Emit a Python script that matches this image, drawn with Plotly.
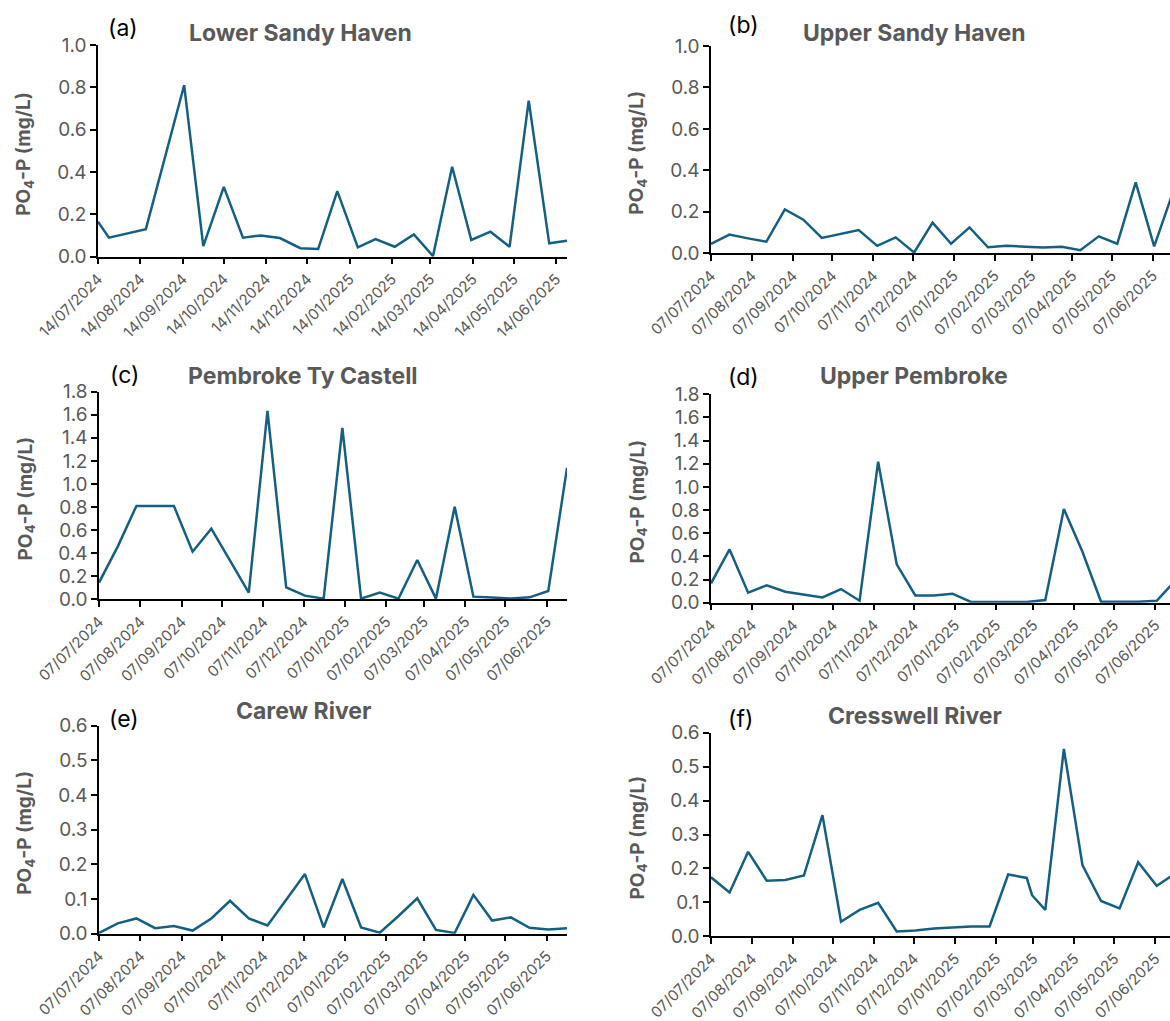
import plotly.graph_objects as go

# ---------------- data ----------------
# Lower Sandy Haven sampling dates and PO4-P (mg/L)
DATES_LSH = [
    "2024-07-14", "2024-07-22", "2024-08-18", "2024-09-15", "2024-09-29",
    "2024-10-14", "2024-10-28", "2024-11-10", "2024-11-24", "2024-12-09",
    "2024-12-22", "2025-01-05", "2025-01-20", "2025-02-02", "2025-02-16",
    "2025-03-02", "2025-03-16", "2025-03-30", "2025-04-13", "2025-04-27",
    "2025-05-11", "2025-05-25", "2025-06-09", "2025-06-22",
]
PO4_LSH = [
    0.165, 0.09, 0.13, 0.81, 0.05, 0.33, 0.09, 0.10, 0.088, 0.04,
    0.036, 0.31, 0.044, 0.083, 0.047, 0.105, 0.003, 0.425, 0.079, 0.118,
    0.047, 0.737, 0.063, 0.075,
]

# Fortnightly sampling dates shared by the other sites
DATES_FN = [
    "2024-07-07", "2024-07-21", "2024-08-04", "2024-08-18", "2024-09-01",
    "2024-09-15", "2024-09-29", "2024-10-13", "2024-10-27", "2024-11-10",
    "2024-11-24", "2024-12-08", "2024-12-22", "2025-01-05", "2025-01-19",
    "2025-02-02", "2025-02-16", "2025-03-02", "2025-03-16", "2025-03-30",
    "2025-04-13", "2025-04-27", "2025-05-11", "2025-05-25", "2025-06-08",
    "2025-06-22",
]
PO4_USH = [
    0.045, 0.09, 0.072, 0.056, 0.212, 0.162, 0.074, 0.092, 0.112, 0.036,
    0.077, 0.004, 0.148, 0.046, 0.125, 0.029, 0.036, 0.032, 0.028, 0.032,
    0.015, 0.082, 0.046, 0.342, 0.033, 0.29,
]
PO4_PTC = [
    0.145, 0.457, 0.81, 0.81, 0.81, 0.413, 0.613, 0.335, 0.058, 1.633,
    0.104, 0.032, 0.006, 1.486, 0.006, 0.058, 0.006, 0.341, 0.006, 0.803,
    0.023, 0.015, 0.006, 0.017, 0.072, 1.14,
]
PO4_UP = [
    0.167, 0.46, 0.086, 0.15, 0.095, 0.072, 0.046, 0.118, 0.017, 1.218,
    0.331, 0.063, 0.063, 0.078, 0.006, 0.006, 0.006, 0.006, 0.023, 0.81,
    0.44, 0.008, 0.008, 0.008, 0.017, 0.19,
]
PO4_CAREW = [
    0.002, 0.03, 0.044, 0.016, 0.022, 0.009, 0.044, 0.095, 0.044, 0.024,
    0.098, 0.172, 0.018, 0.158, 0.018, 0.003, 0.051, 0.102, 0.011, 0.002,
    0.112, 0.038, 0.047, 0.017, 0.012, 0.016,
]
# Cresswell has one extra sample in early March 2025
DATES_CRESS = [
    "2024-07-07", "2024-07-21", "2024-08-04", "2024-08-18", "2024-09-01",
    "2024-09-15", "2024-09-29", "2024-10-13", "2024-10-27", "2024-11-10",
    "2024-11-24", "2024-12-08", "2024-12-22", "2025-01-05", "2025-01-19",
    "2025-02-02", "2025-02-16", "2025-03-02", "2025-03-06", "2025-03-16",
    "2025-03-30", "2025-04-13", "2025-04-27", "2025-05-11", "2025-05-25",
    "2025-06-08", "2025-06-22",
]
PO4_CRESS = [
    0.174, 0.129, 0.249, 0.164, 0.166, 0.179, 0.357, 0.043, 0.078, 0.099,
    0.014, 0.017, 0.023, 0.027, 0.029, 0.029, 0.182, 0.172, 0.121, 0.078,
    0.552, 0.21, 0.104, 0.082, 0.218, 0.149, 0.185,
]

SITE_NAMES = ["Lower Sandy Haven", "Upper Sandy Haven", "Pembroke Ty Castell",
              "Upper Pembroke", "Carew River", "Cresswell River"]
PANEL_TAGS = ["(a)", "(b)", "(c)", "(d)", "(e)", "(f)"]

TICKS_14 = ["2024-07-14", "2024-08-14", "2024-09-14", "2024-10-14", "2024-11-14",
            "2024-12-14", "2025-01-14", "2025-02-14", "2025-03-14", "2025-04-14",
            "2025-05-14", "2025-06-14"]
TICKS_07 = ["2024-07-07", "2024-08-07", "2024-09-07", "2024-10-07", "2024-11-07",
            "2024-12-07", "2025-01-07", "2025-02-07", "2025-03-07", "2025-04-07",
            "2025-05-07", "2025-06-07"]

# ---------------- layout helpers ----------------
W, H = 1170, 1021
LINE_COLOR = "#156082"
GREY = "#595959"
FONT = "Inter"


def px_x(v):
    return v / W


def px_y(v):
    return 1 - v / H


series = [
    (DATES_LSH, PO4_LSH), (DATES_FN, PO4_USH), (DATES_FN, PO4_PTC),
    (DATES_FN, PO4_UP), (DATES_FN, PO4_CAREW), (DATES_CRESS, PO4_CRESS),
]
# plot-area boxes in pixels: left, right, top, bottom
boxes = [
    (98, 567, 45, 256.7), (711, 1170, 46, 253.3),
    (99, 567, 391.7, 599.3), (711, 1170, 394.3, 602.7),
    (99, 567, 725.7, 933.7), (711, 1170, 732.7, 936.3),
]
x_ranges = [
    ["2024-07-14", "2025-06-22"], ["2024-07-07", "2025-06-20"],
    ["2024-07-07", "2025-06-22"], ["2024-07-07", "2025-06-18"],
    ["2024-07-07", "2025-06-22"], ["2024-07-07", "2025-06-18"],
]
y_specs = [(1.0, 0.2), (1.0, 0.2), (1.8, 0.2), (1.8, 0.2), (0.6, 0.1), (0.6, 0.1)]
x_ticks = [TICKS_14, TICKS_07, TICKS_07, TICKS_07, TICKS_07, TICKS_07]
title_pos = [(301, 33), (914, 33), (303, 376), (914, 376), (303, 711), (915, 716)]
tag_pos = [(123, 28), (743, 25), (124, 375), (743, 377), (124, 719), (740, 719)]

fig = go.Figure()
annotations = []
layout_axes = {}

for i, ((dates, vals), (l, r, t, b)) in enumerate(zip(series, boxes)):
    n = "" if i == 0 else str(i + 1)
    fig.add_trace(go.Scatter(
        x=dates, y=vals, mode="lines",
        line=dict(color=LINE_COLOR, width=2.5),
        xaxis="x" + n, yaxis="y" + n, showlegend=False,
    ))
    ymax, dy = y_specs[i]
    layout_axes["xaxis" + n] = dict(
        domain=[px_x(l), px_x(r)], anchor="y" + n, type="date",
        range=x_ranges[i], tickvals=x_ticks[i], tickformat="%d/%m/%Y",
        tickangle=-45, showline=True, linecolor="black", linewidth=1.5,
        ticks="outside", ticklen=6, tickwidth=1.5, tickcolor="black",
        showgrid=False, zeroline=False, automargin=False,
        tickfont=dict(family=FONT, size=15, color=GREY),
    )
    layout_axes["yaxis" + n] = dict(
        domain=[px_y(b), px_y(t)], anchor="x" + n,
        range=[0, ymax], dtick=dy, tick0=0, tickformat=".1f",
        showline=True, linecolor="black", linewidth=1.5,
        ticks="outside", ticklen=6, tickwidth=1.5, tickcolor="black",
        showgrid=False, zeroline=False, automargin=False,
        tickfont=dict(family=FONT, size=19, color=GREY),
    )
    tx, ty = title_pos[i]
    annotations.append(dict(
        text="<b>%s</b>" % SITE_NAMES[i], x=px_x(tx), y=px_y(ty),
        xref="paper", yref="paper", xanchor="center", yanchor="middle",
        showarrow=False, font=dict(family=FONT, size=23, color=GREY),
    ))
    gx, gy = tag_pos[i]
    annotations.append(dict(
        text=PANEL_TAGS[i], x=px_x(gx), y=px_y(gy),
        xref="paper", yref="paper", xanchor="center", yanchor="middle",
        showarrow=False, font=dict(family=FONT, size=23, color="black"),
    ))
    annotations.append(dict(
        text="<b>PO<sub>4</sub>-P (mg/L)</b>", x=px_x(l - 73), y=px_y((t + b) / 2 + 3),
        xref="paper", yref="paper", xanchor="center", yanchor="middle",
        textangle=-90, showarrow=False,
        font=dict(family=FONT, size=19, color=GREY),
    ))

fig.update_layout(
    width=W, height=H, margin=dict(l=0, r=0, t=0, b=0),
    paper_bgcolor="white", plot_bgcolor="white",
    annotations=annotations, **layout_axes,
)

fig.write_html("out.html")
